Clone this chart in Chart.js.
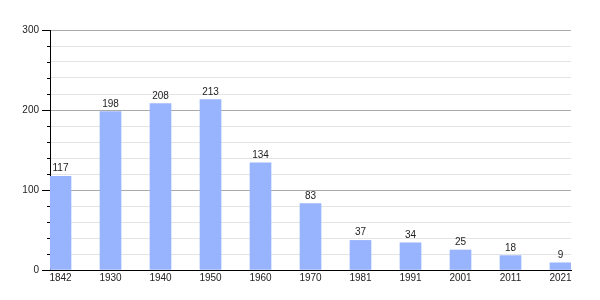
<!DOCTYPE html>
<html>
<head>
<meta charset="utf-8">
<script src="https://cdn.jsdelivr.net/npm/chart.js@4/dist/chart.umd.min.js"></script>
<style>
  html, body { margin: 0; padding: 0; background: #fff; }
  #wrap { width: 600px; height: 300px; }
</style>
</head>
<body>
<div id="wrap"><canvas id="chart"></canvas></div>
<script>
const YEARS = ['1842', '1930', '1940', '1950', '1960', '1970', '1981', '1991', '2001', '2011', '2021'];
const INHABITANTS = [117, 198, 208, 213, 134, 83, 37, 34, 25, 18, 9];
const Y_MAJOR = [0, 100, 200, 300];

const BAR_COLOR = '#99b4ff';
const FONT = { family: "'Liberation Sans', Arial, sans-serif", size: 10 };

// value labels above each bar
const valueLabels = {
  id: 'valueLabels',
  afterDatasetsDraw(chart) {
    const ctx = chart.ctx;
    const meta = chart.getDatasetMeta(0);
    ctx.save();
    ctx.font = `${FONT.size}px ${FONT.family}`;
    ctx.fillStyle = '#222';
    ctx.textAlign = 'center';
    ctx.textBaseline = 'alphabetic';
    meta.data.forEach((bar, i) => {
      ctx.fillText(String(INHABITANTS[i]), bar.x, bar.y - 5);
    });
    ctx.restore();
  },
};

// short tick marks for the minor steps
const minorTicks = {
  id: 'minorTicks',
  afterDraw(chart) {
    const y = chart.scales.y;
    const ctx = chart.ctx;
    const left = chart.chartArea.left;
    ctx.save();
    ctx.strokeStyle = '#000';
    ctx.lineWidth = 1;
    y.ticks.forEach((t) => {
      if (Y_MAJOR.includes(t.value)) return;
      const p = Math.round(y.getPixelForValue(t.value)) + 0.5;
      ctx.beginPath();
      ctx.moveTo(left - 3, p);
      ctx.lineTo(left, p);
      ctx.stroke();
    });
    ctx.restore();
  },
};

new Chart(document.getElementById('chart').getContext('2d'), {
  type: 'bar',
  data: {
    datasets: [{
      data: YEARS.map((_, i) => ({ x: i, y: INHABITANTS[i] })),
      backgroundColor: BAR_COLOR,
      borderWidth: 0,
      barThickness: 21,
    }],
  },
  options: {
    responsive: true,
    maintainAspectRatio: false,
    animation: false,
    layout: { padding: { left: 0, right: 29, top: 30, bottom: 0 } },
    plugins: { legend: { display: false }, tooltip: { enabled: false } },
    scales: {
      x: {
        type: 'linear',
        offset: false,
        min: -0.21,
        max: 10.21,
        grid: { display: false, drawTicks: false },
        border: { display: true, color: '#000', width: 1 },
        ticks: {
          stepSize: 1,
          includeBounds: false,
          maxTicksLimit: 20,
          autoSkip: false,
          maxRotation: 0,
          padding: 2,
          color: '#222',
          font: FONT,
          callback: (v) => (Number.isInteger(v) ? YEARS[v] : ''),
        },
        afterFit: (s) => { s.height = 30; },
      },
      y: {
        min: 0,
        max: 300,
        grid: {
          color: (c) => (Y_MAJOR.includes(c.tick.value) ? '#aaaaaa' : '#e4e4e4'),
          tickColor: (c) => (Y_MAJOR.includes(c.tick.value) ? '#000' : 'transparent'),
          tickLength: 8,
        },
        border: { display: true, color: '#000', width: 1 },
        ticks: {
          stepSize: 20,
          maxTicksLimit: 20,
          autoSkip: false,
          padding: 3,
          color: '#222',
          font: FONT,
          callback: (v) => (Y_MAJOR.includes(v) ? String(v) : ''),
        },
        afterFit: (s) => { s.width = 50; },
      },
    },
  },
  plugins: [valueLabels, minorTicks],
});
</script>
</body>
</html>
